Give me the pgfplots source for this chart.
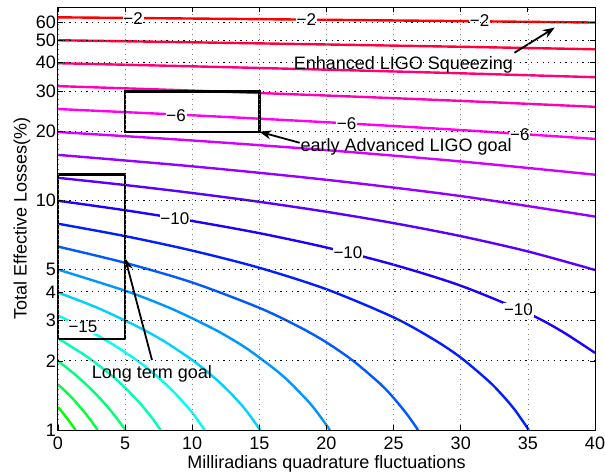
\documentclass[border=0pt]{standalone}
\usepackage{fontspec}
\setmainfont{Liberation Sans}
\usepackage{pgfplots}
\pgfplotsset{compat=1.18}
\usetikzlibrary{arrows.meta}
\definecolor{c2}{Hsb}{0,1,1}
\definecolor{c3}{Hsb}{345.9,1,1}
\definecolor{c4}{Hsb}{331.8,1,1}
\definecolor{c5}{Hsb}{317.6,1,1}
\definecolor{c6}{Hsb}{303.5,1,1}
\definecolor{c7}{Hsb}{289.4,1,1}
\definecolor{c8}{Hsb}{275.3,1,1}
\definecolor{c9}{Hsb}{261.2,1,1}
\definecolor{c10}{Hsb}{247.1,1,1}
\definecolor{c11}{Hsb}{232.9,1,1}
\definecolor{c12}{Hsb}{218.8,1,1}
\definecolor{c13}{Hsb}{204.7,1,1}
\definecolor{c14}{Hsb}{190.6,1,1}
\definecolor{c15}{Hsb}{176.5,1,1}
\definecolor{c16}{Hsb}{162.4,1,1}
\definecolor{c17}{Hsb}{148.2,1,1}
\definecolor{c18}{Hsb}{134.1,1,1}
\definecolor{c19}{Hsb}{120,1,1}
\begin{document}
\begin{tikzpicture}
\path[use as bounding box] (-58pt,-45pt) rectangle (547pt,430pt);
\begin{axis}[
  scale only axis, width=537pt, height=423pt,
  xmin=0, xmax=40, ymin=1, ymax=70, ymode=log,
  xtick={0,5,...,40},
  ytick={1,2,3,4,5,10,20,30,40,50,60},
  yticklabels={1,2,3,4,5,10,20,30,40,50,60},
  /pgf/number format/assume math mode=true,
  tick label style={font=\fontsize{18}{20}\selectfont},
  label style={font=\fontsize{18}{20}\selectfont},
  xlabel={Milliradians quadrature fluctuations},
  ylabel={Total Effective Losses(\%)},
  yticklabel style={inner sep=2pt},
  xticklabel style={yshift=-3.5pt},
  xlabel style={yshift=1pt},
  grid=major,
  major x grid style={gray, line width=0.6pt, dash pattern=on 0.8pt off 4.2pt},
  major y grid style={black, line width=1pt, dash pattern=on 1.2pt off 4.5pt},
  tick align=inside, tick pos=both, major tick length=5pt,
  every tick/.style={black, line width=0.8pt},
  axis line style={black, line width=1pt},
  axis on top, clip=false,
  every axis plot/.append style={line width=2.4pt, smooth},
]
\addplot[c2] coordinates {(0,63.10) (10,62.34) (20,61.56) (30,60.74) (40,59.89)};
\addplot[c3] coordinates {(0,50.12) (10,49.10) (20,48.04) (30,46.94) (40,45.78)};
\addplot[c4] coordinates {(0,39.81) (10,38.58) (20,37.30) (30,35.97) (40,34.58)};
\addplot[c5] coordinates {(0,31.62) (10,30.23) (20,28.77) (30,27.26) (40,25.68)};
\addplot[c6] coordinates {(0,25.12) (10,23.59) (20,22.00) (30,20.34) (40,18.61)};
\addplot[c7] coordinates {(0,19.95) (10,18.32) (20,16.62) (30,14.84) (40,12.99)};
\addplot[c8] coordinates {(0,15.85) (10,14.13) (20,12.34) (30,10.48) (40,8.53)};
\addplot[c9] coordinates {(0,12.59) (5,11.71) (10,10.81) (15,9.89) (20,8.95) (25,7.99) (30,7.01) (35,6.01) (40,4.99)};
\addplot[c10] coordinates {(0,10) (5,9.09) (10,8.16) (15,7.22) (20,6.25) (25,5.26) (30,4.26) (35,3.23) (37.5,2.70) (40,2.17)};
\addplot[c11] coordinates {(0,7.94) (5,7.01) (10,6.06) (15,5.10) (20,4.11) (25,3.10) (28,2.48) (30,2.07) (32,1.65) (33,1.44) (34,1.23) (35.07,1.00)};
\addplot[c12] coordinates {(0,6.31) (5,5.36) (10,4.40) (15,3.41) (18,2.81) (20,2.41) (22,2.00) (24,1.59) (25,1.38) (26,1.17) (26.82,1.00)};
\addplot[c13] coordinates {(0,5.01) (5,4.05) (8,3.47) (10,3.07) (12,2.68) (14,2.28) (16,1.87) (17,1.67) (18,1.46) (19,1.26) (20.26,1.00)};
\addplot[c14] coordinates {(0,3.98) (3,3.40) (6,2.81) (8,2.42) (10,2.02) (11,1.82) (12,1.62) (13,1.42) (14,1.22) (15.06,1.00)};
\addplot[c15] coordinates {(0,3.16) (2,2.77) (4,2.38) (6,1.99) (7,1.79) (8,1.59) (9,1.39) (10,1.19) (10.92,1.00)};
\addplot[c16] coordinates {(0,2.51) (2,2.12) (3,1.92) (4,1.73) (5,1.53) (6,1.33) (7,1.13) (7.64,1.00)};
\addplot[c17] coordinates {(0,2.00) (1,1.80) (2,1.60) (3,1.40) (4,1.20) (5.03,1.00)};
\addplot[c18] coordinates {(0,1.58) (1,1.39) (2,1.19) (2.5,1.09) (2.95,1.00)};
\addplot[c19] coordinates {(0,1.26) (0.5,1.16) (1,1.06) (1.31,1.00)};
% contour labels
\tikzset{clab/.style={fill=white, inner sep=0.8pt, font=\fontsize{17}{19}\selectfont}}
\node[clab] at (axis cs:5.59,62.2) {−2};
\node[clab] at (axis cs:18.5,61.7) {−2};
\node[clab] at (axis cs:31.4,60.8) {−2};
\node[clab] at (axis cs:8.8,23.6) {−6};
\node[clab] at (axis cs:21.5,21.6) {−6};
\node[clab] at (axis cs:34.4,19.5) {−6};
\node[clab] at (axis cs:8.7,8.35) {−10};
\node[clab] at (axis cs:21.6,5.92) {−10};
\node[clab] at (axis cs:34.3,3.34) {−10};
\node[clab] at (axis cs:1.86,2.82) {−15};
% goal boxes
\draw[black, line width=2.3pt] (axis cs:5,20) rectangle (axis cs:15,30);
\draw[black, line width=2.3pt] (axis cs:0,2.5) rectangle (axis cs:5,13);
% annotations
\tikzset{ann/.style={inner sep=0pt, font=\fontsize{18}{20}\selectfont}}
\tikzset{arr/.style={black, line width=1.8pt, -{Stealth[length=12pt,width=9pt]}}}
\draw[arr] (axis cs:34.0,44.2) -- (axis cs:37.0,56.9);
\node[ann, anchor=base east] at (axis cs:33.9,37.4) {Enhanced LIGO Squeezing};
\draw[arr] (axis cs:18.0,17.9) -- (axis cs:15,20);
\node[ann, anchor=base west] at (axis cs:18.05,16.4) {early Advanced LIGO goal};
\draw[arr] (axis cs:7.0,2.02) -- (axis cs:5.0,5.63);
\node[ann, anchor=base] at (axis cs:7.0,1.67) {Long term goal};
\end{axis}
\end{tikzpicture}
\end{document}
